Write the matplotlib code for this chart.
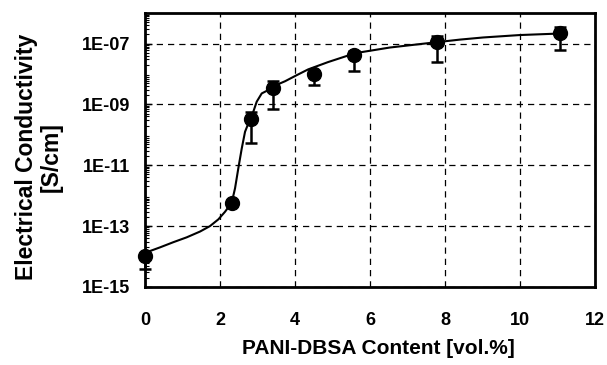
import matplotlib
matplotlib.use("Agg")
import matplotlib.pyplot as plt
from matplotlib.ticker import LogLocator, FixedLocator, NullFormatter

plt.rcParams["font.family"] = ["Liberation Sans", "DejaVu Sans"]
plt.rcParams["font.weight"] = "bold"

# measured points
content = [0.0, 2.31, 2.82, 3.40, 4.51, 5.58, 7.79, 11.07]
conductivity = [1.0e-14, 5.8e-13, 3.2e-10, 3.4e-9, 1.0e-8, 4.1e-8, 1.1e-7, 2.2e-7]
err_low = [3.8e-15, 5.0e-13, 5.4e-11, 7.0e-10, 4.5e-9, 1.3e-8, 2.4e-8, 6.2e-8]
err_high = [1.1e-14, 6.5e-13, 5.6e-10, 6.0e-9, 1.2e-8, 5.9e-8, 1.8e-7, 3.6e-7]

# trend curve (x, log10 of conductivity)
curve_x = [0.0, 0.133, 0.40, 0.755, 1.112, 1.467, 1.733, 1.955, 2.133, 2.312,
           2.40, 2.488, 2.579, 2.667, 2.78, 2.888, 2.979, 3.112, 3.379, 3.60,
           3.733, 4.045, 4.35, 4.88, 5.40, 5.733, 6.533, 7.6, 8.4, 9.02, 10.0, 11.07]
curve_log = [-13.89, -13.82, -13.70, -13.53, -13.37, -13.18, -13.00, -12.78, -12.53, -12.23,
             -11.76, -11.10, -10.45, -9.90, -9.55, -9.24, -8.91, -8.64, -8.47, -8.31,
             -8.24, -8.04, -7.85, -7.61, -7.40, -7.29, -7.13, -6.98, -6.87, -6.80, -6.72, -6.67]

fig = plt.figure(figsize=(6.07, 3.65), dpi=100)
ax = fig.add_axes([0.239, 0.214, 0.741, 0.750])

ax.plot(curve_x, [10 ** v for v in curve_log], color="black", lw=1.5, zorder=3)

lo = [c - l for c, l in zip(conductivity, err_low)]
hi = [h - c for c, h in zip(conductivity, err_high)]
ax.errorbar(content, conductivity, yerr=[lo, hi], fmt="o", color="black",
            ms=10, elinewidth=1.8, capsize=4, capthick=1.8, zorder=4, clip_on=False)

ax.set_yscale("log")
ax.set_xlim(0, 12)
ax.set_ylim(1e-15, 1e-6)
ax.set_xticks(range(0, 13, 2))
ax.yaxis.set_major_locator(FixedLocator([1e-15, 1e-13, 1e-11, 1e-9, 1e-7]))
ax.yaxis.set_minor_locator(LogLocator(base=10, subs=[2, 3, 4, 5, 6, 7, 8, 9], numticks=30))
ax.yaxis.set_minor_formatter(NullFormatter())
ax.set_yticklabels(["1E-15", "1E-13", "1E-11", "1E-09", "1E-07"])

ax.grid(True, which="major", color="black", ls=(0, (5, 4)), lw=0.9)
ax.tick_params(axis="x", length=0, pad=18, labelsize=13)
ax.tick_params(axis="y", which="major", direction="in", length=5, width=1, pad=10.5, labelsize=13)
ax.tick_params(axis="y", which="minor", direction="in", length=3, width=0.8)
for s in ax.spines.values():
    s.set_linewidth(2)

ax.set_xlabel("PANI-DBSA Content [vol.%]", fontsize=15, fontweight="bold")
ax.xaxis.set_label_coords(0.518, -0.19)
ax.set_ylabel("Electrical Conductivity\n[S/cm]", fontsize=16.5, fontweight="bold",
              linespacing=1.1)
ax.yaxis.set_label_coords(-0.184, 0.476)

fig.savefig("out.png", dpi=100)
